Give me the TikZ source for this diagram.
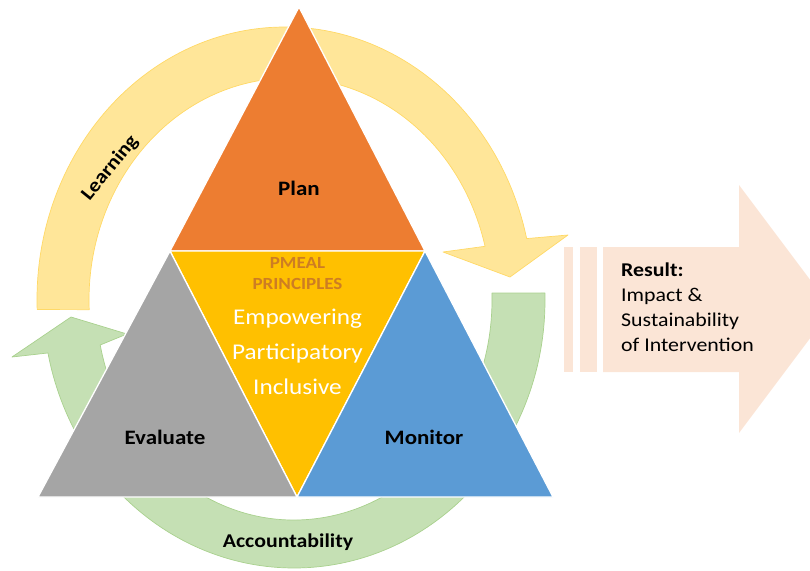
\documentclass[tikz,border=0pt]{standalone}
\usepackage{fontspec}
\setmainfont{Carlito}[FakeStretch=1.12]
\usetikzlibrary{positioning,calc}
\definecolor{planorange}{HTML}{ED7D31}
\definecolor{coreyellow}{HTML}{FFC000}
\definecolor{evalgray}{HTML}{A5A5A5}
\definecolor{monblue}{HTML}{5B9BD5}
\definecolor{learnfill}{HTML}{FFE699}
\definecolor{learnline}{HTML}{FFD966}
\definecolor{accfill}{HTML}{C5E0B4}
\definecolor{accline}{HTML}{A9D18E}
\definecolor{resfill}{HTML}{FBE5D6}
\definecolor{pmealtext}{RGB}{205,125,35}

\begin{document}
\begin{tikzpicture}[x=1pt,y=-1pt,
    tri/.style={draw=white,line width=1.3pt},
    band/.style={line width=0.7pt,line join=round},
    lbl/.style={font=\fontsize{20.5}{24}\selectfont\bfseries},
    sublbl/.style={font=\fontsize{19.5}{23}\selectfont\bfseries}]
        \clip (0,0) rectangle (810,570);
        % centres of the two circular arrows
        \coordinate (Lo) at (285,300);
        \coordinate (Li) at (290,300);
        \coordinate (Ao) at (294,300);
        \coordinate (Ai) at (294,300);
        \fill[learnfill,draw=learnline,band] ($(Lo)+(178:248 and 273)$) arc[start angle=178,end angle=347,x radius=248,y radius=273]
            -- (568,235) -- (510,277) -- (443,252) -- ($(Li)+(346:201 and 222)$) arc[start angle=346,end angle=177.5,x radius=201,y radius=222] -- cycle;
        \fill[accfill,draw=accline,band] ($(Ao)+(-1.5:251 and 268)$) arc[start angle=-1.5,end angle=168.6,x radius=251,y radius=268]
            -- (12,357) -- (71,317) -- (127,334) -- ($(Ai)+(168.2:198 and 220)$) arc[start angle=168.2,end angle=-1.8,x radius=198,y radius=220] -- cycle;
        % result arrow
        \fill[resfill] (564,247) rectangle (573,372);
        \fill[resfill] (580,247) rectangle (597,372);
        \fill[resfill] (603,247) -- (739,247) -- (739,185) -- (832,309) -- (739,433) -- (739,372) -- (603,372) -- cycle;
        % triangles
        \coordinate (P) at (299,7);
        \coordinate (L) at (170,251);
        \coordinate (R) at (425,251);
        \coordinate (B) at (297,497);
        \coordinate (BL) at (38,497);
        \coordinate (BR) at (553,497);
        \filldraw[tri,fill=planorange] (P) -- (L) -- (R) -- cycle;
        \filldraw[tri,fill=coreyellow] (L) -- (R) -- (B) -- cycle;
        \filldraw[tri,fill=evalgray] (L) -- (BL) -- (B) -- cycle;
        \filldraw[tri,fill=monblue] (R) -- (B) -- (BR) -- cycle;
        \node[lbl] (plan) at (299,188) {Plan};
        \node[font=\fontsize{17}{21}\selectfont\bfseries,text=pmealtext,align=center] (pmeal) at (297.5,274) {PMEAL\\PRINCIPLES};
        \node[font=\fontsize{22.5}{35}\selectfont,text=white,align=center] (princ) at (297.5,352) {Empowering\\Participatory\\Inclusive};
        \node[lbl] (eval) at (165,437) {Evaluate};
        \node[lbl] (mon) at (424,437) {Monitor};
        \node[sublbl] (acc) at (288,542) {Accountability};
        \node[sublbl,rotate=51] (learn) at (110,168) {Learning};
        \node[font=\fontsize{19.5}{25}\selectfont,align=left,anchor=west,inner sep=0pt] (res) at (621,307) {\textbf{Result:}\\Impact \&\\Sustainability\\of Intervention};
\end{tikzpicture}
\end{document}
